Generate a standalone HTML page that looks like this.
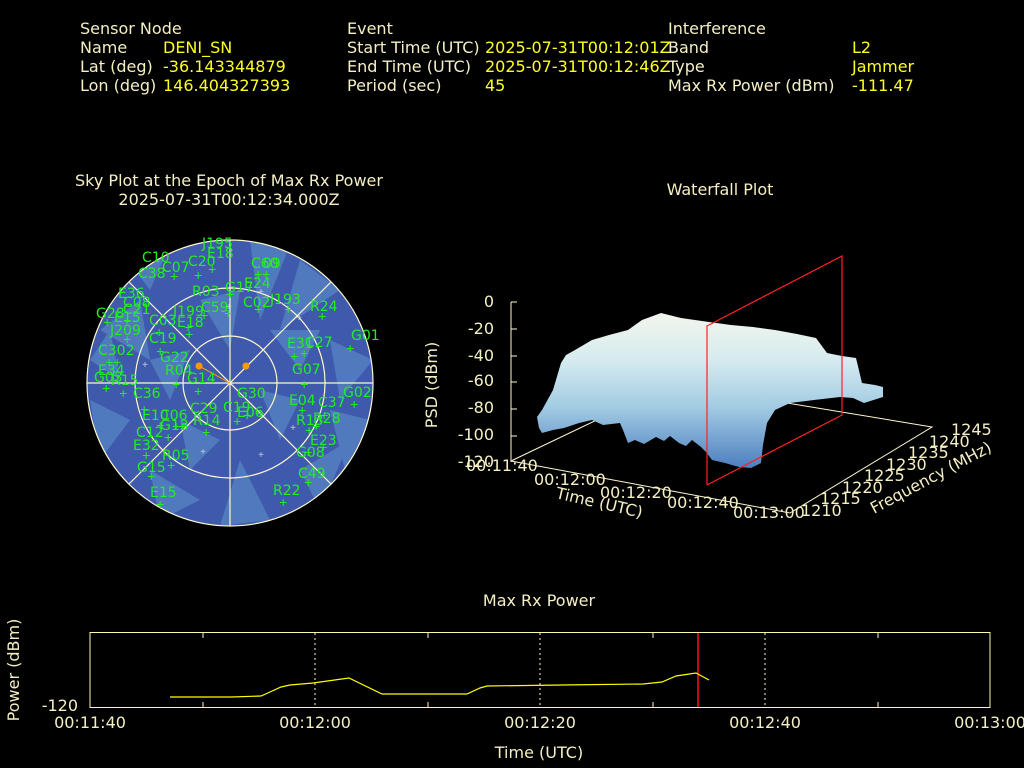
<!DOCTYPE html>
<html><head><meta charset="utf-8"><style>
html,body{margin:0;padding:0;background:#000;}
svg{display:block;font-family:"DejaVu Sans","Liberation Sans",sans-serif;}
.l{fill:#f5efc4;font-size:16px}
.v{fill:#ffff22;font-size:16px}
.g{fill:#22ee22;font-size:14px}
.t{fill:#f5efc4;font-size:16px}
</style></head><body>
<svg width="1024" height="768" viewBox="0 0 1024 768" xmlns="http://www.w3.org/2000/svg">
<rect width="1024" height="768" fill="#000"/>
<!-- header -->
<text class="l" x="80" y="34">Sensor Node</text>
<text class="l" x="80" y="53">Name</text><text class="v" x="163" y="53">DENI_SN</text>
<text class="l" x="80" y="72">Lat (deg)</text><text class="v" x="163" y="72">-36.143344879</text>
<text class="l" x="80" y="91">Lon (deg)</text><text class="v" x="163" y="91">146.404327393</text>
<text class="l" x="347" y="34">Event</text>
<text class="l" x="347" y="53">Start Time (UTC)</text><text class="v" x="485" y="53">2025-07-31T00:12:01Z</text>
<text class="l" x="347" y="72">End Time (UTC)</text><text class="v" x="485" y="72">2025-07-31T00:12:46Z</text>
<text class="l" x="347" y="91">Period (sec)</text><text class="v" x="485" y="91">45</text>
<text class="l" x="668" y="34">Interference</text>
<text class="l" x="668" y="53">Band</text><text class="v" x="852" y="53">L2</text>
<text class="l" x="668" y="72">Type</text><text class="v" x="852" y="72">Jammer</text>
<text class="l" x="668" y="91">Max Rx Power (dBm)</text><text class="v" x="852" y="91">-111.47</text>

<!-- sky plot -->
<text class="t" x="229" y="186" text-anchor="middle">Sky Plot at the Epoch of Max Rx Power</text>
<text class="t" x="229" y="205" text-anchor="middle">2025-07-31T00:12:34.000Z</text>
<defs><clipPath id="cc"><circle cx="230" cy="383" r="143"/></clipPath>
<linearGradient id="wf" x1="0" y1="313" x2="0" y2="470" gradientUnits="userSpaceOnUse">
<stop offset="0" stop-color="#f2f6ec"/><stop offset="0.3" stop-color="#d6ebf0"/><stop offset="0.6" stop-color="#a2cbe3"/><stop offset="1" stop-color="#4a7cbf"/></linearGradient></defs>
<circle cx="230" cy="383" r="143" fill="#3f5aac"/>
<g clip-path="url(#cc)" fill="#5785c4" opacity="0.75">
<polygon points="250,240 290,245 260,320"/>
<polygon points="300,260 340,290 280,330"/>
<polygon points="100,330 140,300 150,360"/>
<polygon points="90,400 130,420 100,460"/>
<polygon points="330,340 373,360 340,400"/>
<polygon points="300,470 350,440 320,510"/>
<polygon points="240,460 270,520 220,526"/>
<polygon points="150,470 200,500 160,520"/>
<polygon points="200,300 240,290 230,350"/>
<polygon points="330,410 370,420 345,470"/>
<polygon points="120,250 170,245 150,290"/>
<polygon points="180,420 220,440 190,470"/>
<polygon points="260,390 300,400 280,440"/>
<polygon points="150,360 190,350 170,400"/>
<polygon points="90,360 110,330 120,380"/>
<polygon points="270,330 320,330 300,370"/>
</g>
<g fill="none" stroke="#fff8d0" stroke-width="1.2">
<circle cx="230" cy="383" r="143"/><circle cx="230" cy="383" r="95"/><circle cx="230" cy="383" r="47"/>
<line x1="87" y1="383" x2="373" y2="383"/><line x1="230" y1="240" x2="230" y2="526"/>
<line x1="129" y1="282" x2="331" y2="484"/><line x1="331" y1="282" x2="129" y2="484"/>
</g>
<line x1="199" y1="366" x2="230" y2="383" stroke="#ff9900"/>
<circle cx="199" cy="366" r="3.5" fill="#ff9900"/><circle cx="246" cy="366" r="3.5" fill="#ff9900"/>
<g class="g">
<text x="202" y="248">J195</text><text x="142" y="262">C10</text><text x="162" y="272">C07</text><text x="138" y="278">C38</text>
<text x="207" y="258">E18</text><text x="188" y="266">C20</text><text x="251" y="268">C60</text><text x="263" y="268">09</text>
<text x="244" y="288">E24</text><text x="192" y="296">R03</text><text x="225" y="292">G17</text><text x="118" y="298">E36</text>
<text x="123" y="307">C08</text><text x="270" y="304">J193</text><text x="310" y="311">R24</text><text x="96" y="318">G28</text>
<text x="123" y="314">C21</text><text x="173" y="316">J199</text><text x="201" y="312">C59</text><text x="243" y="307">C02</text>
<text x="114" y="322">E15</text><text x="177" y="327">E18</text><text x="149" y="325">C03</text><text x="110" y="335">J209</text>
<text x="351" y="340">G01</text><text x="149" y="343">C19</text><text x="287" y="348">E31</text><text x="305" y="347">C27</text>
<text x="98" y="355">C302</text><text x="160" y="362">G22</text><text x="292" y="374">G07</text><text x="165" y="375">R04</text>
<text x="98" y="375">E34</text><text x="187" y="383">G14</text><text x="111" y="385">R15</text><text x="94" y="382">G03</text>
<text x="133" y="398">C36</text><text x="237" y="398">G30</text><text x="343" y="397">G02</text><text x="289" y="405">E04</text>
<text x="318" y="407">C37</text><text x="223" y="412">C19</text><text x="237" y="417">E06</text><text x="190" y="413">C29</text>
<text x="142" y="420">E10</text><text x="160" y="420">C06</text><text x="193" y="425">R14</text><text x="313" y="423">R28</text>
<text x="136" y="437">C12</text><text x="160" y="430">G13</text><text x="310" y="445">E23</text><text x="296" y="425">R13</text><text x="133" y="450">E32</text>
<text x="296" y="457">G08</text><text x="162" y="460">R05</text><text x="298" y="478">C49</text><text x="137" y="472">G15</text>
<text x="273" y="495">R22</text><text x="150" y="497">E15</text>
</g>
<g fill="#22ee22" font-size="14" font-family="Liberation Mono,monospace">
<text x="170" y="281">+</text><text x="194" y="280">+</text><text x="208" y="274">+</text><text x="254" y="279">+</text><text x="262" y="279">+</text>
<text x="226" y="299">+</text><text x="254" y="314">+</text><text x="200" y="320">+</text><text x="224" y="318">+</text><text x="284" y="314">+</text>
<text x="318" y="321">+</text><text x="103" y="327">+</text><text x="123" y="325">+</text><text x="184" y="332">+</text><text x="185" y="339">+</text>
<text x="155" y="337">+</text><text x="123" y="344">+</text><text x="156" y="356">+</text><text x="346" y="353">+</text><text x="290" y="361">+</text>
<text x="300" y="358">+</text><text x="105" y="367">+</text><text x="113" y="367">+</text><text x="172" y="389">+</text><text x="194" y="396">+</text>
<text x="102" y="393">+</text><text x="119" y="398">+</text><text x="300" y="389">+</text><text x="350" y="409">+</text><text x="298" y="415">+</text>
<text x="140" y="414">+</text><text x="233" y="426">+</text><text x="243" y="420">+</text><text x="256" y="418">+</text><text x="320" y="420">+</text>
<text x="312" y="431">+</text><text x="156" y="430">+</text><text x="172" y="431">+</text><text x="178" y="431">+</text><text x="202" y="437">+</text>
<text x="305" y="435">+</text><text x="164" y="442">+</text><text x="319" y="452">+</text><text x="142" y="460">+</text><text x="304" y="457">+</text>
<text x="167" y="470">+</text><text x="147" y="481">+</text><text x="304" y="487">+</text><text x="156" y="509">+</text><text x="279" y="507">+</text>
</g>
<g fill="#ccccdd" font-size="10" font-family="Liberation Mono,monospace">
<text x="258" y="295">+</text><text x="226" y="310">+</text><text x="296" y="321">+</text><text x="142" y="368">+</text><text x="290" y="431">+</text><text x="200" y="455">+</text><text x="258" y="458">+</text>
</g>

<!-- waterfall -->
<text class="t" x="720" y="195" text-anchor="middle">Waterfall Plot</text>
<g stroke="#fff8d0" stroke-width="1" fill="none">
<line x1="511" y1="302" x2="511" y2="462"/>
<line x1="511" y1="302" x2="517" y2="302"/><line x1="511" y1="329" x2="517" y2="329"/><line x1="511" y1="356" x2="517" y2="356"/>
<line x1="511" y1="382" x2="517" y2="382"/><line x1="511" y1="409" x2="517" y2="409"/><line x1="511" y1="436" x2="517" y2="436"/>
<polyline points="511,461 790,513 932,427 672,384 511,461"/>
</g>
<g class="t" text-anchor="end">
<text x="494" y="307">0</text><text x="494" y="334">-20</text><text x="494" y="361">-40</text><text x="494" y="386">-60</text>
<text x="494" y="413">-80</text><text x="494" y="440">-100</text><text x="494" y="467">-120</text>
</g>
<text class="t" transform="translate(437,385) rotate(-90)" text-anchor="middle">PSD (dBm)</text>
<polygon fill="url(#wf)" points="537,417 542,410 553,390 561,363 566,355 575,350 592,340 609,335 628,330 642,320 661,313 681,318 709,322 731,325 753,327 775,330 797,334 816,338 827,353 842,356 856,358 862,383 875,385 883,387 883,397 864,403 853,398 840,397 814,400 790,403 775,410 767,423 763,445 761,463 751,468 739,467 725,463 712,460 706,452 701,447 692,440 686,446 679,443 670,436 664,441 656,437 644,444 635,440 628,443 623,430 620,423 603,425 592,420 579,423 564,428 553,430 542,433 539,428"/>
<g stroke="#ff2222" stroke-width="1.2" fill="none"><polyline points="707,485 707,326 842,256 842,415 707,485"/></g>
<g class="t">
<text x="466" y="471">00:11:40</text>
<text x="534" y="485">00:12:00</text>
<text x="600" y="498">00:12:20</text>
<text x="667" y="508">00:12:40</text>
<text x="733" y="518">00:13:00</text>
<text x="555" y="498" transform="rotate(13 555 498)">Time (UTC)</text>
<text x="801" y="516">1210</text><text x="820" y="504">1215</text><text x="842" y="493">1220</text>
<text x="864" y="481">1225</text><text x="886" y="470">1230</text><text x="908" y="458">1235</text>
<text x="929" y="447">1240</text><text x="951" y="435">1245</text>
<text x="874" y="514" transform="rotate(-28 874 514)">Frequency (MHz)</text>
</g>

<!-- bottom plot -->
<text class="t" x="539" y="606" text-anchor="middle">Max Rx Power</text>
<rect x="90" y="632.5" width="900" height="75" fill="none" stroke="#fff8b0" stroke-width="1"/>
<g stroke="#fff8d0" stroke-dasharray="2,3" stroke-width="1">
<line x1="315" y1="633" x2="315" y2="707"/><line x1="540" y1="633" x2="540" y2="707"/><line x1="765" y1="633" x2="765" y2="707"/>
</g>
<g stroke="#fff8d0">
<line x1="203" y1="633" x2="203" y2="638"/><line x1="428" y1="633" x2="428" y2="638"/><line x1="653" y1="633" x2="653" y2="638"/><line x1="878" y1="633" x2="878" y2="638"/>
<line x1="203" y1="702" x2="203" y2="707"/><line x1="428" y1="702" x2="428" y2="707"/><line x1="653" y1="702" x2="653" y2="707"/><line x1="878" y1="702" x2="878" y2="707"/>
</g>
<line x1="698" y1="633" x2="698" y2="707" stroke="#ff1111" stroke-width="1.5"/>
<polyline fill="none" stroke="#ffff00" stroke-width="1.2" points="170,697 232,697 261,696 270,692 281,687 290,685 313,683 349,678 382,694 467,694 480,688 487,686 562,685 643,684 662,682 676,676 696,673 709,680"/>
<text class="t" x="78" y="711" text-anchor="end">-120</text>
<text class="t" transform="translate(19,670) rotate(-90)" text-anchor="middle">Power (dBm)</text>
<g class="t" text-anchor="middle">
<text x="90" y="728">00:11:40</text><text x="315" y="728">00:12:00</text><text x="540" y="728">00:12:20</text>
<text x="765" y="728">00:12:40</text><text x="990" y="728">00:13:00</text>
<text x="539" y="758">Time (UTC)</text>
</g>
</svg>
</body></html>
